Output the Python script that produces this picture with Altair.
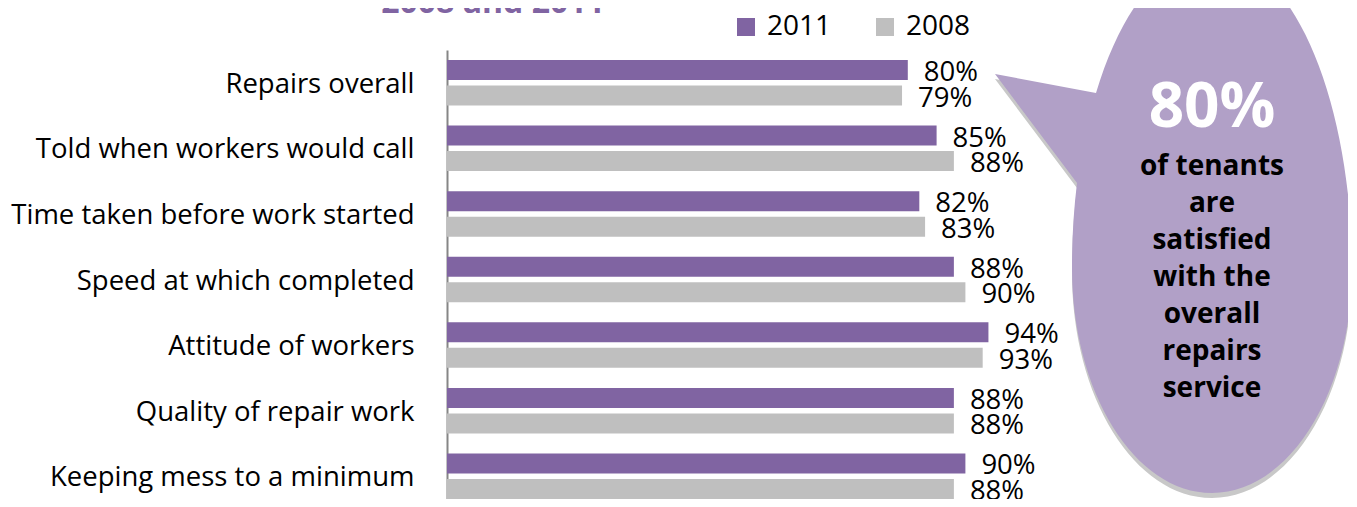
import altair as alt
import pandas as pd

categories = [
    "Repairs overall",
    "Told when workers would call",
    "Time taken before work started",
    "Speed at which completed",
    "Attitude of workers",
    "Quality of repair work",
    "Keeping mess to a minimum",
]
series = ["2011", "2008"]
values_2011 = [80, 85, 82, 88, 94, 88, 90]
values_2008 = [79, 88, 83, 90, 93, 88, 88]
colors = ["#8064A2", "#BFBFBF"]

title_text = "2008 and 2011"
bubble_big = "80%"
bubble_text = "of tenants\nare\nsatisfied\nwith the\noverall\nrepairs\nservice"

rows = []
for c, a, b in zip(categories, values_2011, values_2008):
    rows.append({"category": c, "series": "2011", "value": a})
    rows.append({"category": c, "series": "2008", "value": b})
df = pd.DataFrame(rows)

FONT = "Open Sans"

y_enc = alt.Y(
    "category:N",
    sort=categories,
    scale=alt.Scale(domain=categories, range=[0, 459], paddingInner=0.306, paddingOuter=0.153),
    axis=alt.Axis(
        title=None,
        ticks=False,
        labelFont=FONT,
        labelFontSize=27.5,
        labelColor="black",
        labelPadding=33,
        labelOffset=2,
        domainColor="#868686",
        domainWidth=2,
        labelLimit=600,
    ),
)
yoff_enc = alt.YOffset(
    "series:N",
    sort=series,
    scale=alt.Scale(domain=series, paddingInner=0.216, paddingOuter=0),
)
x_enc = alt.X("value:Q", scale=alt.Scale(domain=[0, 100]), axis=None)

bars = alt.Chart(df).mark_bar().encode(
    x=x_enc,
    y=y_enc,
    yOffset=yoff_enc,
    color=alt.Color(
        "series:N",
        sort=series,
        scale=alt.Scale(domain=series, range=colors),
        legend=alt.Legend(
            orient="none",
            legendX=285,
            legendY=-37,
            direction="horizontal",
            title=None,
            symbolType="square",
            symbolSize=324,
            symbolStrokeWidth=0,
            labelFont=FONT,
            labelFontSize=28,
            labelColor="black",
            labelOffset=7,
            columnPadding=39,
        ),
    ),
)

labels = alt.Chart(df).transform_calculate(
    label="datum.value + '%'"
).mark_text(
    align="left", baseline="middle", dx=16, dy=3, font=FONT, fontSize=27.5, color="black"
).encode(
    x=x_enc,
    y=y_enc,
    yOffset=yoff_enc,
    text="label:N",
)

bubble_path = (
    "M -217 -194 L -116 -175 A 140 315 0 0 1 140 0 "
    "A 140 225 0 0 1 -140 0 A 140 315 0 0 1 -135 -85 Z"
)

shadow = alt.Chart(pd.DataFrame({"k": [0]})).mark_point(
    shape=bubble_path, size=4, filled=True, opacity=1, color="#C8C8C8"
).encode(x=alt.value(765), y=alt.value(223))

bubble = alt.Chart(pd.DataFrame({"k": [0]})).mark_point(
    shape=bubble_path, size=4, filled=True, opacity=1, color="#B1A0C7"
).encode(x=alt.value(765), y=alt.value(218))

big = alt.Chart(pd.DataFrame({"k": [0]})).mark_text(
    align="center", baseline="alphabetic", font=FONT, fontWeight="bold", fontSize=62, color="white"
).encode(x=alt.value(765), y=alt.value(77), text=alt.value(bubble_big))

small = alt.Chart(pd.DataFrame({"k": [0]})).mark_text(
    align="center", baseline="alphabetic", font=FONT, fontWeight="bold", fontSize=28,
    color="black", lineBreak="\n", lineHeight=37,
).encode(x=alt.value(765), y=alt.value(125), text=alt.value(bubble_text))

title = alt.Chart(pd.DataFrame({"k": [0]})).mark_text(
    align="center", baseline="alphabetic", font=FONT, fontWeight="bold", fontSize=32, color="#8064A2"
).encode(x=alt.value(46), y=alt.value(-37), text=alt.value(title_text))

chart = alt.layer(bars, labels, shadow, bubble, big, small, title).properties(
    width=576,
    height=449,
    autosize=alt.AutoSizeParams(type="none"),
    padding={"left": 439, "top": 42, "right": 325, "bottom": 0},
).configure_view(stroke=None)

chart.save("out.html", embed_options={"renderer": "svg", "actions": False})
